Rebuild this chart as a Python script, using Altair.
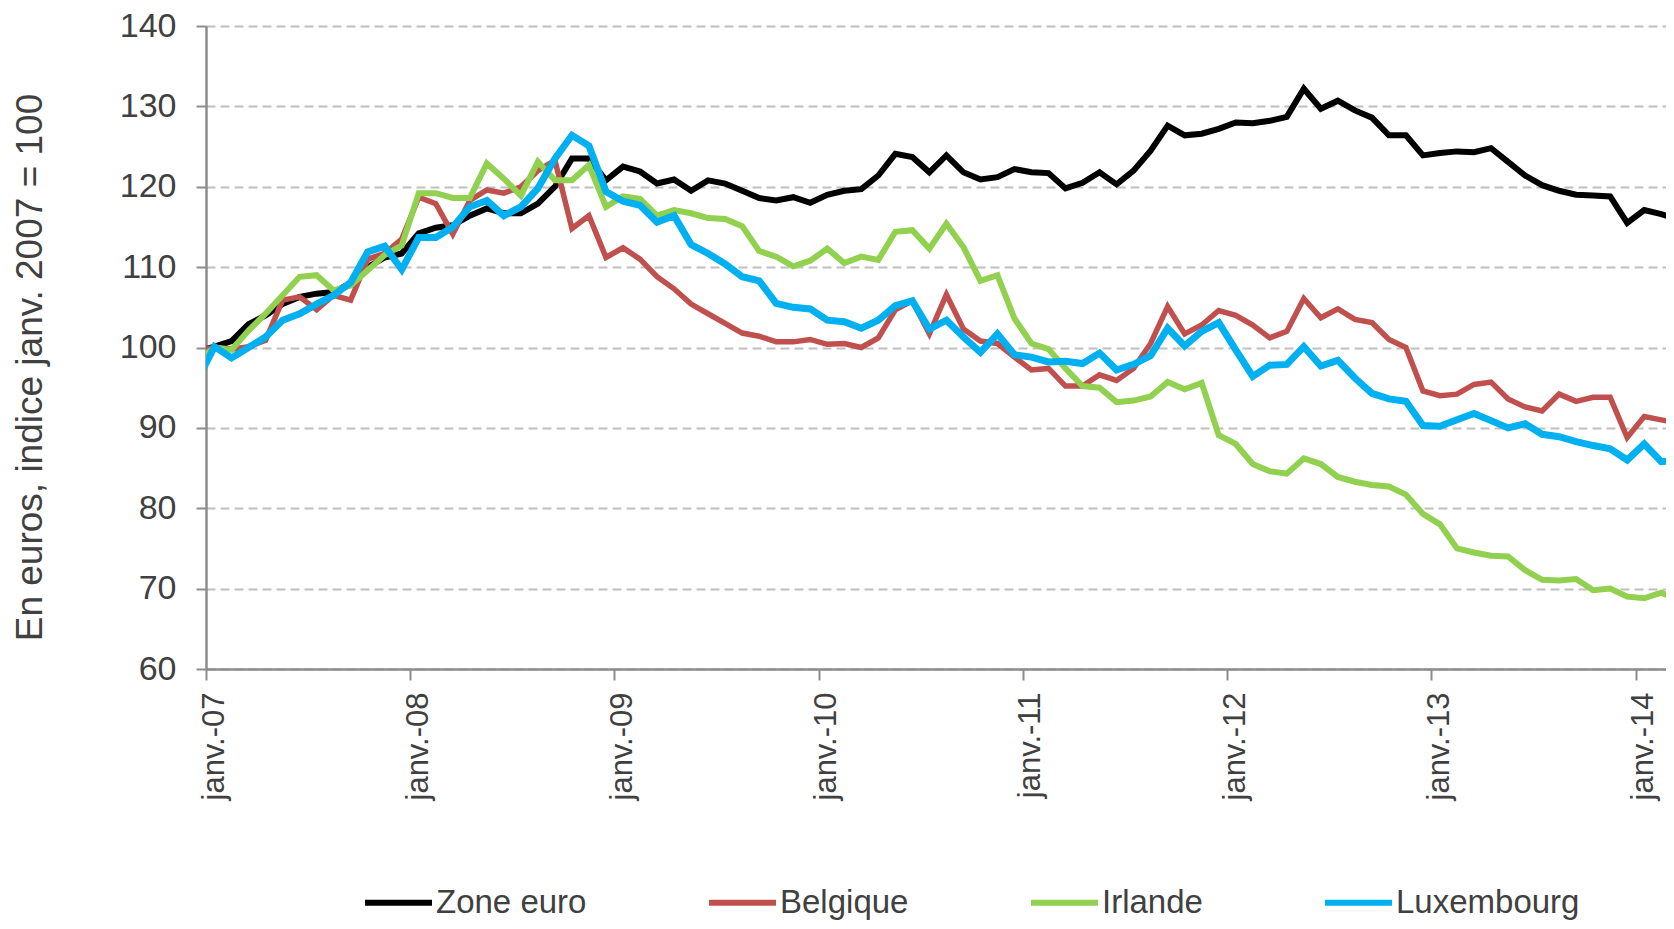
import json
import altair as alt
import pandas as pd

# ---------------- data ----------------
# monthly points, Dec 2006 .. Mar 2014 (index janv. 2007 = 100)
months = [str(p) for p in pd.period_range("2006-12", periods=88, freq="M")]

zone_euro = [99.5, 100.1, 100.8, 102.9, 104.0, 105.4, 106.3, 106.7, 106.9, 108.0,
             110.0, 111.2, 111.7, 114.2, 114.9, 115.2, 116.4, 117.3, 116.7, 116.7,
             117.9, 120.0, 123.5, 123.5, 120.8, 122.5, 121.9, 120.4, 120.9, 119.5,
             120.8, 120.4, 119.5, 118.6, 118.3, 118.7, 118.0, 119.0, 119.5, 119.7,
             121.4, 124.1, 123.7, 121.8, 123.9, 121.8, 120.9, 121.2, 122.2, 121.8,
             121.7, 119.8, 120.5, 121.8, 120.3, 122.0, 124.5, 127.6, 126.4, 126.6,
             127.2, 128.0, 127.9, 128.2, 128.7, 132.2, 129.7, 130.7, 129.5, 128.6,
             126.4, 126.4, 123.9, 124.2, 124.4, 124.3, 124.8, 123.1, 121.4, 120.2,
             119.5, 119.0, 118.9, 118.8, 115.5, 117.1, 116.6, 115.9]

belgique = [99.6, 100.0, 99.8, 100.1, 100.9, 105.9, 106.3, 104.7, 106.5, 105.9,
            111.0, 111.7, 113.5, 118.7, 117.9, 114.1, 118.3, 119.6, 119.2, 120.0,
            122.0, 123.3, 114.8, 116.4, 111.2, 112.4, 111.0, 108.8, 107.3, 105.4,
            104.2, 103.0, 101.8, 101.4, 100.7, 100.7, 101.0, 100.4, 100.5, 100.0,
            101.2, 104.7, 105.8, 101.7, 106.6, 102.3, 100.8, 100.5, 98.8, 97.2,
            97.4, 95.2, 95.2, 96.6, 95.9, 97.4, 100.5, 105.1, 101.7, 102.8,
            104.6, 104.0, 102.8, 101.2, 102.0, 106.1, 103.7, 104.8, 103.5, 103.1,
            101.0, 100.0, 94.6, 94.0, 94.2, 95.4, 95.7, 93.6, 92.6, 92.1,
            94.2, 93.3, 93.8, 93.8, 88.8, 91.4, 91.0, 90.6]

irlande = [98.4, 100.0, 99.7, 102.1, 104.2, 106.5, 108.8, 109.0, 107.1, 107.7,
           109.6, 111.5, 112.7, 119.2, 119.2, 118.6, 118.6, 122.9, 121.0, 118.9,
           123.1, 120.8, 120.8, 122.7, 117.5, 118.8, 118.5, 116.4, 117.1, 116.7,
           116.1, 116.0, 115.1, 112.0, 111.3, 110.1, 110.8, 112.3, 110.5, 111.3,
           110.9, 114.4, 114.6, 112.3, 115.4, 112.5, 108.3, 109.0, 103.6, 100.5,
           99.8, 97.4, 95.2, 95.0, 93.2, 93.4, 93.9, 95.7, 94.8, 95.6,
           89.1, 88.0, 85.5, 84.6, 84.3, 86.2, 85.5, 83.9, 83.3, 82.9,
           82.7, 81.7, 79.3, 78.0, 75.0, 74.5, 74.1, 74.0, 72.3, 71.1,
           71.0, 71.2, 69.8, 70.0, 69.0, 68.8, 69.5, 68.6]

luxembourg = [96.0, 100.1, 98.7, 100.0, 101.3, 103.4, 104.2, 105.4, 106.5, 108.1,
              111.9, 112.6, 109.7, 113.7, 113.7, 115.0, 117.5, 118.3, 116.4, 117.5,
              119.8, 123.5, 126.4, 125.1, 119.4, 118.2, 117.7, 115.6, 116.4, 112.8,
              111.7, 110.4, 108.8, 108.3, 105.5, 105.0, 104.8, 103.4, 103.2, 102.4,
              103.4, 105.2, 105.8, 102.3, 103.4, 101.3, 99.4, 101.7, 99.1, 98.8,
              98.2, 98.3, 98.0, 99.3, 97.2, 97.9, 99.0, 102.4, 100.2, 102.0,
              103.1, 99.7, 96.4, 97.8, 97.9, 100.1, 97.7, 98.4, 96.2, 94.3,
              93.6, 93.3, 90.3, 90.2, 91.0, 91.8, 90.9, 90.0, 90.5, 89.2,
              88.9, 88.3, 87.8, 87.4, 86.0, 88.0, 85.8, 86.0]

series_names = ["Zone euro", "Belgique", "Irlande", "Luxembourg"]
series_values = [zone_euro, belgique, irlande, luxembourg]
series_colors = ["#000000", "#C0504D", "#92D050", "#00B0F0"]
series_widths = [6, 5.5, 6, 7]

tick_labels = ["janv.-07", "janv.-08", "janv.-09", "janv.-10",
               "janv.-11", "janv.-12", "janv.-13", "janv.-14"]
y_ticks = [60, 70, 80, 90, 100, 110, 120, 130, 140]

# ---------------- table ----------------
rows = []
for name, vals in zip(series_names, series_values):
    for m, v in zip(months, vals):
        y, mo = int(m[:4]), int(m[5:7])
        # category axis: each month centred in its slot, ticks on janv.
        t = (y - 2007) * 12 + (mo - 1) + 0.5
        rows.append({"mois": m, "t": t, "valeur": v, "serie": name})
df = pd.DataFrame(rows)

FONT = "Liberation Sans, Arial, sans-serif"
TXT = "#404040"
AX = "#8C8C8C"

label_expr = "%s[round(datum.value / 12)]" % json.dumps(tick_labels)

x_enc = alt.X(
    "t:Q",
    scale=alt.Scale(domain=[0, 85.78], nice=False, zero=False),
    axis=alt.Axis(
        values=[12 * i for i in range(len(tick_labels))],
        labelExpr=label_expr,
        title=None, grid=False,
        domainColor=AX, domainWidth=2.5,
        tickColor=AX, tickWidth=2, tickSize=11,
        labelAngle=270, labelAlign="right", labelBaseline="middle",
        labelPadding=12, labelOffset=8,
        labelFontSize=31, labelColor=TXT, labelFont=FONT,
        labelOverlap=False, labelFlush=False,
    ),
)
y_enc = alt.Y(
    "valeur:Q",
    scale=alt.Scale(domain=[60, 140], nice=False, zero=False),
    axis=alt.Axis(
        values=y_ticks, format="d",
        title="En euros, indice janv. 2007 = 100",
        titleFont=FONT, titleFontSize=37, titleFontWeight="normal", titleColor=TXT,
        titleAngle=270, titleAlign="center", titleBaseline="middle",
        titleX=-176, titleY=341,
        grid=True, gridColor="#BFBFBF", gridDash=[9, 5], gridWidth=2,
        domainColor=AX, domainWidth=2.5,
        tickColor=AX, tickWidth=2, tickSize=10,
        labelPadding=20, labelFontSize=34, labelColor=TXT, labelFont=FONT,
    ),
)
color_enc = alt.Color(
    "serie:N",
    scale=alt.Scale(domain=series_names, range=series_colors),
    legend=alt.Legend(
        title=None, orient="none", direction="horizontal", columns=4,
        legendX=156, legendY=840,
        symbolType="stroke", symbolSize=4489, symbolStrokeWidth=6,
        labelFont=FONT, labelFontSize=33, labelColor=TXT, labelOffset=1,
        labelLimit=0, columnPadding=110, padding=0,
    ),
)

layers = []
for name, w in zip(series_names, series_widths):
    layers.append(
        alt.Chart(df)
        .transform_filter(alt.datum.serie == name)
        .mark_line(strokeWidth=w, clip=True)
        .encode(x=x_enc, y=y_enc, color=color_enc)
    )

chart = (
    alt.layer(*layers)
    .properties(
        width=1460, height=643,
        autosize=alt.AutoSizeParams(type="none"),
        padding={"left": 198, "top": 18, "right": 0, "bottom": 252},
    )
    .configure_view(stroke=None)
)

chart.save("out.html", embed_options={"renderer": "svg", "actions": False})
